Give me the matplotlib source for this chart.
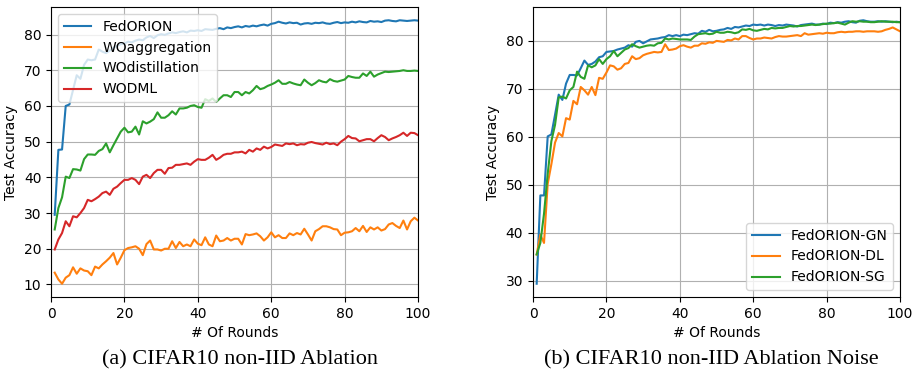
import matplotlib

matplotlib.use("Agg")

import matplotlib.pyplot as plt
import numpy as np

rounds = np.arange(1, 101)

# (a) ablation
fedorion = [
    29.5, 47.7, 47.8, 60.0, 60.4, 64.5, 68.6, 67.6, 71.5, 73.0,
    72.8, 73.0, 75.8, 75.2, 74.8, 75.5, 76.3, 76.8, 77.3, 77.5,
    78.0, 77.8, 78.3, 78.6, 78.4, 79.2, 79.6, 79.0, 79.8, 80.1,
    79.9, 80.3, 80.6, 80.4, 80.7, 80.9, 80.6, 81.1, 81.0, 81.2,
    81.0, 81.5, 81.4, 81.3, 81.6, 81.8, 81.5, 82.0, 81.8, 82.1,
    82.3, 82.0, 82.4, 82.2, 82.5, 82.3, 82.6, 82.8, 82.5, 83.0,
    83.2, 83.6, 83.3, 83.1, 83.4, 83.2, 83.3, 82.8, 83.1, 83.2,
    83.0, 83.3, 83.2, 83.4, 83.1, 83.0, 83.3, 83.5, 83.2, 83.4,
    83.3, 83.6, 83.4, 83.7, 83.5, 83.4, 83.8, 83.6, 83.7, 83.5,
    83.9, 84.0, 83.8, 83.7, 84.0, 83.9, 83.8, 83.9, 84.0, 83.9,
]
wo_aggregation = [
    13.3, 11.4, 10.2, 11.9, 12.6, 14.8, 13.0, 14.5, 13.9, 13.7,
    12.6, 15.0, 14.5, 15.6, 16.5, 17.5, 18.8, 15.6, 17.5, 19.6,
    20.2, 20.4, 20.7, 20.0, 18.2, 21.3, 22.3, 19.8, 19.8, 19.5,
    20.0, 20.0, 22.1, 20.2, 21.9, 20.7, 21.2, 20.7, 22.6, 21.4,
    21.0, 23.2, 21.2, 20.7, 23.7, 22.1, 22.3, 23.0, 22.3, 22.8,
    22.8, 21.2, 24.1, 23.8, 24.0, 24.3, 23.5, 22.3, 23.2, 24.6,
    23.2, 23.8, 23.0, 23.0, 24.3, 23.8, 24.4, 24.0, 25.6, 24.0,
    22.3, 24.9, 25.5, 26.3, 26.3, 26.0, 25.5, 25.4, 23.8, 24.5,
    24.6, 24.9, 25.8, 24.9, 26.4, 24.7, 26.0, 25.4, 26.0, 25.1,
    25.5, 26.8, 27.2, 26.4, 25.8, 27.9, 25.4, 27.7, 28.7, 27.9,
]
wo_distillation = [
    25.4, 31.4, 34.4, 40.2, 39.8, 42.3, 42.2, 41.9, 45.1, 46.4,
    46.4, 46.3, 47.4, 47.9, 49.5, 47.0, 49.0, 50.9, 52.8, 53.9,
    52.6, 52.8, 54.2, 52.0, 55.7, 55.1, 55.6, 56.3, 58.2, 56.7,
    56.7, 57.4, 58.5, 57.6, 59.3, 59.3, 59.5, 60.0, 60.2, 59.7,
    59.5, 61.9, 61.4, 62.1, 61.1, 62.1, 63.0, 63.0, 62.5, 63.9,
    63.9, 63.0, 63.9, 63.5, 64.4, 65.6, 64.7, 65.0, 65.6, 66.0,
    66.5, 67.2, 66.2, 66.2, 66.7, 66.3, 66.0, 65.8, 67.4, 66.5,
    65.8, 66.4, 67.2, 66.8, 66.6, 67.5, 67.0, 66.8, 67.1, 67.4,
    68.4, 68.1, 67.9, 67.9, 69.1, 68.4, 69.6, 68.2, 68.8, 69.2,
    69.6, 69.5, 69.6, 69.7, 69.8, 70.0, 69.8, 69.8, 69.9, 69.8,
]
wo_dml = [
    19.8, 22.6, 24.4, 27.7, 26.3, 29.1, 28.8, 30.0, 31.4, 33.7,
    33.3, 33.9, 34.6, 35.6, 36.0, 35.1, 36.8, 37.4, 38.4, 39.3,
    39.3, 39.8, 39.3, 38.1, 40.2, 40.7, 39.8, 41.2, 42.1, 42.1,
    41.0, 42.6, 42.7, 43.5, 43.5, 43.7, 43.9, 43.5, 44.4, 45.1,
    44.9, 44.9, 45.5, 46.3, 44.9, 45.5, 46.3, 46.6, 46.6, 47.0,
    47.0, 47.2, 46.7, 47.7, 47.2, 48.1, 47.7, 48.6, 48.1, 48.5,
    49.2, 49.0, 48.8, 49.5, 49.3, 49.5, 49.0, 49.3, 49.2, 49.7,
    49.9, 49.6, 49.4, 49.2, 49.7, 49.3, 49.5, 49.0, 50.0, 50.7,
    51.6, 51.0, 50.9, 50.1, 50.4, 50.7, 50.7, 50.1, 51.0, 51.8,
    51.3, 50.4, 50.9, 51.3, 51.8, 52.5, 51.6, 52.5, 52.4, 51.8,
]

# (b) ablation noise
fedorion_gn = [
    29.4, 47.8, 47.8, 60.1, 60.5, 64.6, 68.8, 67.7, 71.1, 72.9,
    72.9, 72.8, 74.3, 75.9, 75.0, 75.2, 75.7, 76.6, 76.8, 77.7,
    77.8, 77.9, 78.2, 78.4, 78.6, 79.1, 78.8, 79.8, 80.0, 79.5,
    79.9, 80.3, 80.4, 80.5, 80.7, 80.8, 81.2, 81.0, 81.2, 81.0,
    81.3, 81.2, 81.4, 81.6, 81.5, 82.1, 81.9, 82.3, 82.0, 82.1,
    82.3, 82.4, 82.7, 82.5, 82.9, 82.8, 83.0, 83.2, 83.1, 83.4,
    83.3, 83.4, 83.2, 83.4, 83.3, 83.1, 83.3, 83.2, 83.4, 83.3,
    83.2, 83.0, 83.3, 83.4, 83.5, 83.6, 83.4, 83.4, 83.6, 83.5,
    83.8, 83.7, 83.9, 83.8, 84.0, 84.1, 83.9, 83.8, 84.2, 84.3,
    84.1, 84.0, 84.0, 84.1, 84.0, 84.1, 84.0, 83.9, 84.0, 83.9,
]
fedorion_dl = [
    35.5, 39.6, 37.9, 50.2, 54.3, 58.8, 60.8, 60.1, 63.9, 63.6,
    67.5, 66.8, 70.4, 69.7, 68.8, 70.4, 68.7, 72.3, 72.1, 73.4,
    74.9, 74.7, 74.0, 74.3, 75.2, 75.4, 76.8, 76.2, 76.4, 77.0,
    77.3, 77.5, 77.7, 77.6, 77.7, 79.3, 78.1, 78.2, 78.4, 78.9,
    79.1, 78.8, 78.6, 79.0, 79.0, 79.5, 79.4, 79.7, 79.6, 80.0,
    79.9, 79.8, 80.2, 80.1, 80.5, 80.3, 81.0, 81.0, 80.6, 80.3,
    80.5, 80.5, 80.7, 80.6, 80.5, 80.8, 81.0, 80.9, 80.9, 81.0,
    81.1, 81.2, 81.0, 81.6, 81.3, 81.4, 81.5, 81.6, 81.5, 81.7,
    81.6, 81.6, 81.8, 81.9, 81.8, 81.9, 81.9, 82.0, 82.0, 81.9,
    82.0, 82.0, 82.0, 81.9, 82.0, 82.3, 82.5, 82.8, 82.4, 82.0,
]
fedorion_sg = [
    35.5, 37.9, 44.0, 52.3, 59.1, 62.5, 68.2, 68.4, 68.0, 69.7,
    70.4, 73.6, 72.5, 72.1, 74.9, 74.5, 74.9, 76.2, 75.2, 76.2,
    76.8, 77.9, 76.8, 77.5, 78.2, 78.5, 79.3, 78.9, 78.6, 78.8,
    79.0, 79.1, 79.0, 79.5, 79.6, 80.5, 80.3, 80.5, 80.4, 80.3,
    80.3, 80.3, 80.2, 80.9, 81.4, 81.5, 81.6, 81.4, 81.5, 81.9,
    81.7, 81.7, 81.9, 81.8, 81.6, 81.8, 82.4, 82.3, 82.5, 82.2,
    82.1, 82.3, 82.5, 82.4, 82.7, 82.6, 82.7, 82.7, 82.9, 83.1,
    83.0, 83.1, 83.1, 83.2, 83.3, 83.4, 83.3, 83.4, 83.5, 83.6,
    83.6, 83.7, 83.8, 83.6, 83.4, 83.8, 84.1, 84.0, 84.1, 84.0,
    84.0, 83.9, 83.9, 84.0, 84.1, 84.0, 84.0, 84.0, 83.9, 83.9,
]

fig = plt.figure(figsize=(9.13, 3.73), dpi=100)
ax1 = fig.add_axes([0.0559, 0.204, 0.402, 0.777])
ax2 = fig.add_axes([0.5838, 0.204, 0.402, 0.777])

ax1.plot(rounds, fedorion, label="FedORION")
ax1.plot(rounds, wo_aggregation, label="WOaggregation")
ax1.plot(rounds, wo_distillation, label="WOdistillation")
ax1.plot(rounds, wo_dml, label="WODML")
ax1.legend(loc="upper left")

ax2.plot(rounds, fedorion_gn, label="FedORION-GN")
ax2.plot(rounds, fedorion_dl, label="FedORION-DL")
ax2.plot(rounds, fedorion_sg, label="FedORION-SG")
ax2.legend(loc="lower right")

for ax in (ax1, ax2):
    ax.set_xlim(0, 100)
    ax.set_xlabel("# Of Rounds")
    ax.set_ylabel("Test Accuracy")
    ax.grid(True)

fig.text(0.263, 0.036, "(a) CIFAR10 non-IID Ablation", ha="center", va="center",
         family="Liberation Serif", fontsize=16)
fig.text(0.779, 0.036, "(b) CIFAR10 non-IID Ablation Noise", ha="center", va="center",
         family="Liberation Serif", fontsize=16)

fig.savefig("out.png", dpi=100)
